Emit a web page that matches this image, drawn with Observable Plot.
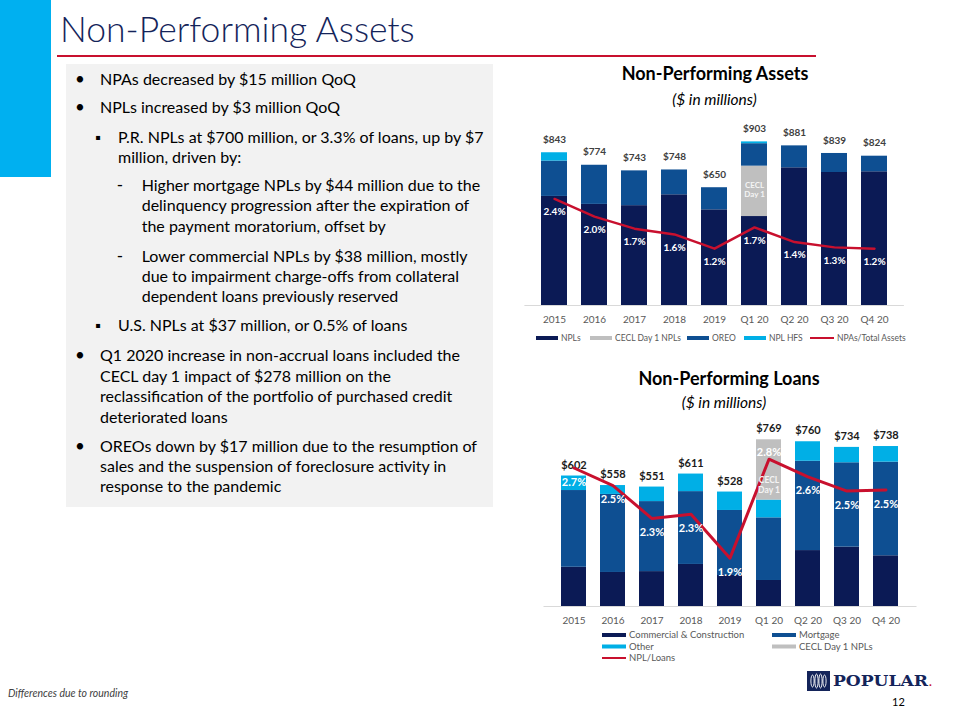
<!DOCTYPE html>
<html>
<head>
<meta charset="utf-8">
<script src="https://cdn.jsdelivr.net/npm/d3@7"></script>
<script src="https://cdn.jsdelivr.net/npm/@observablehq/plot@0.6"></script>
<style>
  html, body { margin: 0; padding: 0; background: #fff; }
  #page { position: relative; width: 960px; height: 720px; overflow: hidden; font-family: Lato, "Noto Sans", sans-serif; }
  #bg { position: absolute; left: 0; top: 0; }
  .chart { position: absolute; }
</style>
</head>
<body>
<div id="page">
  <svg id="bg" width="960" height="720"></svg>
  <div id="topChart" class="chart" style="left:500px; top:110px;"></div>
  <div id="botChart" class="chart" style="left:500px; top:415px;"></div>
</div>
<script>
// ---------------- DATA ----------------
const periods = ["2015", "2016", "2017", "2018", "2019", "Q1 20", "Q2 20", "Q3 20", "Q4 20"];

// Non-Performing Assets ($ millions)
const npaSeries = ["NPLs", "CECL Day 1 NPLs", "OREO", "NPL HFS"];
const npaNPLs   = [602, 558, 551, 611, 528, 491, 760, 734, 738];
const npaCECL   = [0, 0, 0, 0, 0, 278, 0, 0, 0];
const npaOREO   = [195, 216, 192, 137, 122, 124, 121, 105, 86];
const npaHFS    = [46, 0, 0, 0, 0, 10, 0, 0, 0];
const npaTotals = [843, 774, 743, 748, 650, 903, 881, 839, 824];
const npaRatio  = [2.40, 2.00, 1.73, 1.60, 1.28, 1.76, 1.43, 1.31, 1.28];
const npaRatioLabels = ["2.4%", "2.0%", "1.7%", "1.6%", "1.2%", "1.7%", "1.4%", "1.3%", "1.2%"];

// Non-Performing Loans ($ millions)
const nplSeries = ["Commercial & Construction", "Mortgage", "Other", "CECL Day 1 NPLs"];
const nplComm   = [181, 157, 161, 194, 143, 120, 258, 274, 234];
const nplMort   = [354, 360, 323, 336, 300, 289, 412, 389, 432];
const nplOther  = [67, 41, 67, 81, 85, 82, 90, 71, 72];
const nplCECL   = [0, 0, 0, 0, 0, 278, 0, 0, 0];
const nplTotals = [602, 558, 551, 611, 528, 769, 760, 734, 738];
const nplRatio  = [2.71, 2.55, 2.25, 2.29, 1.89, 2.79, 2.63, 2.50, 2.51];
const nplRatioLabels = ["2.7%", "2.5%", "2.3%", "2.3%", "1.9%", "2.8%", "2.6%", "2.5%", "2.5%"];

// ---------------- STYLE ----------------
const NAVY = "#0b1a55", MID = "#0e4f92", LIGHT = "#00afe6", GRAY = "#bfbfbf", RED = "#c8102e";
const npaColors = [NAVY, GRAY, MID, LIGHT];
const nplColors = [NAVY, MID, LIGHT, GRAY];
const FONT = "Lato, 'Noto Sans', sans-serif";

// secondary (percent) axes expressed on the primary $ axis
const npaAxis = d3.scaleLinear([0, 4], [0, 980]);
const nplAxis = d3.scaleLinear([1.45, 3.0], [0, 786]);

// ---------------- TOP CHART ----------------
const npaRows = periods.flatMap((p, i) => [
  {x: p, series: npaSeries[0], v: npaNPLs[i]},
  {x: p, series: npaSeries[1], v: npaCECL[i]},
  {x: p, series: npaSeries[2], v: npaOREO[i]},
  {x: p, series: npaSeries[3], v: npaHFS[i]}
]);
const npaPts = periods.map((p, i) => ({x: p, total: npaTotals[i], ratio: npaRatio[i], label: npaRatioLabels[i], npl: npaNPLs[i], cecl: npaCECL[i]}));

const topPlot = Plot.plot({
  width: 430, height: 220,
  marginTop: 10, marginBottom: 25, marginLeft: 24.4, marginRight: 26.1,
  style: {fontFamily: FONT, fontSize: "10px", color: "#595959", background: "transparent", overflow: "visible"},
  x: {domain: periods, padding: 0.343, label: null, tickSize: 0, tickPadding: 10},
  y: {domain: [0, 1021], axis: null},
  color: {domain: npaSeries, range: npaColors},
  marks: [
    Plot.barY(npaRows, {x: "x", y: "v", fill: "series", order: npaSeries}),
    Plot.ruleY([0], {stroke: "#d9d9d9", strokeWidth: 1}),
    Plot.text(npaPts, {x: "x", y: "total", text: d => "$" + d.total, dy: -13, fontSize: 10, fontWeight: "bold", fill: "#404040"}),
    Plot.line(npaPts, {x: "x", y: d => npaAxis(d.ratio), stroke: RED, strokeWidth: 2.4}),
    Plot.text(npaPts, {x: "x", y: d => npaAxis(d.ratio), text: "label", dy: 13, fontSize: 10, fontWeight: "bold", fill: "white"}),
    Plot.text(npaPts.filter(d => d.cecl > 0), {x: "x", y: d => d.npl + d.cecl / 2, text: () => "CECL\nDay 1", dy: -1.5, fontSize: 8, fontWeight: "bold", fill: "#f4f4f4", lineHeight: 1.15})
  ]
});
document.getElementById("topChart").appendChild(topPlot);

// ---------------- BOTTOM CHART ----------------
const nplRows = periods.flatMap((p, i) => [
  {x: p, series: nplSeries[0], v: nplComm[i]},
  {x: p, series: nplSeries[1], v: nplMort[i]},
  {x: p, series: nplSeries[2], v: nplOther[i]},
  {x: p, series: nplSeries[3], v: nplCECL[i]}
]);
const nplPts = periods.map((p, i) => ({x: p, total: nplTotals[i], ratio: nplRatio[i], label: nplRatioLabels[i], base: nplComm[i] + nplMort[i] + nplOther[i], cecl: nplCECL[i]}));

const botPlot = Plot.plot({
  width: 440, height: 215,
  marginTop: 10, marginBottom: 24, marginLeft: 43.5, marginRight: 23.5,
  style: {fontFamily: FONT, fontSize: "10px", color: "#595959", background: "transparent", overflow: "visible"},
  x: {domain: periods, padding: 0.349, label: null, tickSize: 0, tickPadding: 10.5},
  y: {domain: [0, 835], axis: null},
  color: {domain: nplSeries, range: nplColors},
  marks: [
    Plot.barY(nplRows, {x: "x", y: "v", fill: "series", order: nplSeries}),
    Plot.ruleY([0], {stroke: "#d9d9d9", strokeWidth: 1}),
    Plot.text(nplPts, {x: "x", y: "total", text: d => "$" + d.total, dy: -11, fontSize: 11, fontWeight: "bold", fill: "#1a1a1a"}),
    Plot.line(nplPts, {x: "x", y: d => nplAxis(d.ratio), stroke: RED, strokeWidth: 3}),
    Plot.text(nplPts.filter(d => d.cecl === 0), {x: "x", y: d => nplAxis(d.ratio), text: "label", dy: 14, fontSize: 11, fontWeight: "bold", fill: "white"}),
    Plot.text(nplPts.filter(d => d.cecl > 0), {x: "x", y: d => nplAxis(d.ratio), text: "label", dy: -7, fontSize: 11, fontWeight: "bold", fill: "white"}),
    Plot.text(nplPts.filter(d => d.cecl > 0), {x: "x", y: d => d.base + d.cecl / 2, text: () => "CECL\nDay 1", dy: 15, fontSize: 8.5, fontWeight: "bold", fill: "#f4f4f4", lineHeight: 1.2})
  ]
});
document.getElementById("botChart").appendChild(botPlot);

// ---------------- PAGE DECORATION / TEXT ----------------
const bg = d3.select("#bg");
bg.append("rect").attr("x", 0).attr("y", 0).attr("width", 51).attr("height", 177).attr("fill", "#00b0f0");
bg.append("text").attr("x", 60).attr("y", 42).attr("font-family", FONT).attr("font-weight", 300)
  .attr("font-size", 35.5).attr("fill", "#14245a").text("Non-Performing Assets");
bg.append("rect").attr("x", 57).attr("y", 55).attr("width", 759).attr("height", 2).attr("fill", "#c8102e");
bg.append("rect").attr("x", 66).attr("y", 64).attr("width", 427).attr("height", 443).attr("fill", "#f2f2f2");

const bullets = [
  {lvl: 0, m: "•", t: "NPAs decreased by $15 million QoQ", y: 85},
  {lvl: 0, m: "•", t: "NPLs increased by $3 million QoQ", y: 113},
  {lvl: 1, m: "▪", t: "P.R. NPLs at $700 million, or 3.3% of loans, up by $7", y: 143},
  {lvl: 1, m: "",  t: "million, driven by:", y: 163},
  {lvl: 2, m: "-", t: "Higher mortgage NPLs by $44 million due to the", y: 191},
  {lvl: 2, m: "",  t: "delinquency progression after the expiration of", y: 211},
  {lvl: 2, m: "",  t: "the payment moratorium, offset by", y: 232},
  {lvl: 2, m: "-", t: "Lower commercial NPLs by $38 million, mostly", y: 262},
  {lvl: 2, m: "",  t: "due to impairment charge-offs from collateral", y: 282},
  {lvl: 2, m: "",  t: "dependent loans previously reserved", y: 302},
  {lvl: 1, m: "▪", t: "U.S. NPLs at $37 million, or 0.5% of loans", y: 331},
  {lvl: 0, m: "•", t: "Q1 2020 increase in non-accrual loans included the", y: 361},
  {lvl: 0, m: "",  t: "CECL day 1 impact of $278 million on the", y: 382},
  {lvl: 0, m: "",  t: "reclassification of the portfolio of purchased credit", y: 402},
  {lvl: 0, m: "",  t: "deteriorated loans", y: 423},
  {lvl: 0, m: "•", t: "OREOs down by $17 million due to the resumption of", y: 452},
  {lvl: 0, m: "",  t: "sales and the suspension of foreclosure activity in", y: 472},
  {lvl: 0, m: "",  t: "response to the pandemic", y: 492}
];
const textX = [100, 118, 141.7], markX = [80, 98, 120];
const bt = bg.append("g").attr("font-family", FONT).attr("font-size", 16).attr("fill", "#000");
bullets.forEach(b => {
  if (b.m) bt.append("text").attr("x", markX[b.lvl]).attr("y", b.y).attr("text-anchor", "middle")
    .attr("font-size", b.m === "▪" ? 15 : 17).text(b.m);
  bt.append("text").attr("x", textX[b.lvl]).attr("y", b.y).text(b.t);
});

// chart titles
function chartTitle(title, cx, y, cx2, y2) {
  bg.append("text").attr("x", cx).attr("y", y).attr("text-anchor", "middle").attr("font-family", FONT)
    .attr("font-weight", "bold").attr("font-size", 18).attr("fill", "#000").text(title);
  bg.append("text").attr("x", cx2).attr("y", y2).attr("text-anchor", "middle").attr("font-family", FONT)
    .attr("font-style", "italic").attr("font-size", 15.5).attr("fill", "#000").text("($ in millions)");
}
chartTitle("Non-Performing Assets", 715, 80, 714.5, 105);
chartTitle("Non-Performing Loans", 729, 385, 724, 408);

// legends
function legendItem(g, x, y, label, color, w, h) {
  g.append("rect").attr("x", x).attr("y", y - h / 2).attr("width", w).attr("height", h).attr("fill", color);
  g.append("text").attr("x", x + w + 3).attr("y", y + 3).text(label);
}
const lg1 = bg.append("g").attr("font-family", FONT).attr("font-size", 8.5).attr("fill", "#595959");
const topLegendX = [536, 590, 687, 744];
npaSeries.forEach((s, i) => legendItem(lg1, topLegendX[i], 338, s, npaColors[i], 22, 4));
legendItem(lg1, 810, 338, "NPAs/Total Assets", RED, 24, 2);

const lg2 = bg.append("g").attr("font-family", FONT).attr("font-size", 9.5).attr("fill", "#595959");
const botLegendPos = [[602, 635], [772, 635], [602, 646.5], [772, 646.5]];
nplSeries.forEach((s, i) => legendItem(lg2, botLegendPos[i][0], botLegendPos[i][1], s, nplColors[i], 24, 4));
legendItem(lg2, 602, 658, "NPL/Loans", RED, 24, 2);

// footer
bg.append("text").attr("x", 8).attr("y", 697).attr("font-family", FONT).attr("font-style", "italic")
  .attr("font-size", 10.5).attr("fill", "#404040").text("Differences due to rounding");
bg.append("text").attr("x", 892).attr("y", 706).attr("font-family", FONT)
  .attr("font-size", 11).attr("fill", "#000").text("12");

// logo
const logo = bg.append("g");
logo.append("rect").attr("x", 807).attr("y", 671).attr("width", 23).attr("height", 20).attr("fill", "#14245a");
[[-6, 3], [-2, 4], [2, 4], [6, 3]].forEach(([dx, r]) => {
  logo.append("ellipse").attr("cx", 818.5 + dx).attr("cy", 681).attr("rx", 1.6).attr("ry", r + 3)
    .attr("fill", "none").attr("stroke", "#ffffff").attr("stroke-width", 0.9);
});
logo.append("text").attr("x", 833).attr("y", 686).attr("font-family", "'DejaVu Serif', serif")
  .attr("font-weight", "bold").attr("font-size", 15).attr("textLength", 95).attr("lengthAdjust", "spacingAndGlyphs")
  .attr("fill", "#14245a").text("POPULAR");
logo.append("text").attr("x", 929).attr("y", 686).attr("font-family", FONT).attr("font-weight", "bold")
  .attr("font-size", 12).attr("fill", "#c8102e").text(".");
</script>
</body>
</html>
